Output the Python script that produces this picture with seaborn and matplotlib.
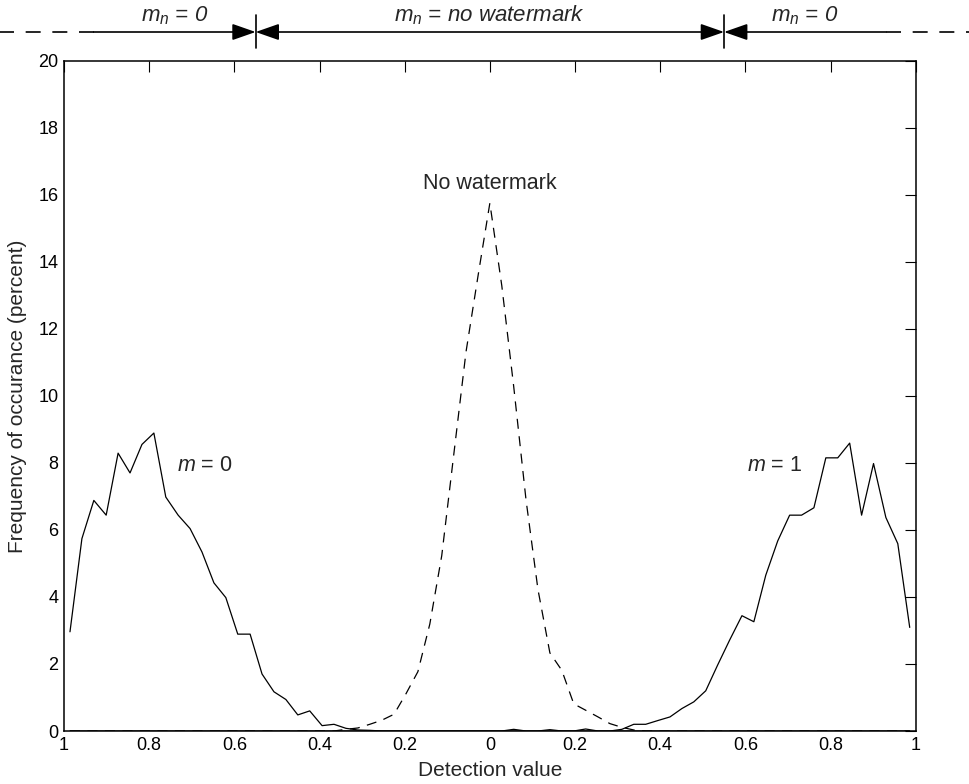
import matplotlib
matplotlib.use("Agg")
import matplotlib.pyplot as plt
import matplotlib.transforms as mtransforms
import seaborn as sns

# bin centres of the detection histogram (71 bins on [-1, 1])
detection_value = [
    -0.986, -0.958, -0.930, -0.901, -0.873, -0.845, -0.817, -0.789, -0.761, -0.732,
    -0.704, -0.676, -0.648, -0.620, -0.592, -0.563, -0.535, -0.507, -0.479, -0.451,
    -0.423, -0.394, -0.366, -0.338, -0.310, -0.282, -0.254, -0.225, -0.197, -0.169,
    -0.141, -0.113, -0.085, -0.056, -0.028, 0.0, 0.028, 0.056, 0.085, 0.113,
    0.141, 0.169, 0.197, 0.225, 0.254, 0.282, 0.310, 0.338, 0.366, 0.394,
    0.423, 0.451, 0.479, 0.507, 0.535, 0.563, 0.592, 0.620, 0.648, 0.676,
    0.704, 0.732, 0.761, 0.789, 0.817, 0.845, 0.873, 0.901, 0.930, 0.958, 0.986,
]

# frequency of occurance (percent), message bit m = 0
freq_m0 = [
    2.96, 5.74, 6.88, 6.44, 8.29, 7.70, 8.55, 8.89, 6.98, 6.44,
    6.04, 5.34, 4.42, 3.98, 2.89, 2.89, 1.70, 1.17, 0.94, 0.48,
    0.60, 0.16, 0.20, 0.08, 0.03, 0.02, 0.0, 0.0, 0.0, 0.0,
    0.0, 0.0, 0.0, 0.0, 0.0, 0.0, 0.0, 0.0, 0.0, 0.0,
    0.0, 0.0, 0.0, 0.0, 0.0, 0.0, 0.0, 0.0, 0.0, 0.0,
    0.0, 0.0, 0.0, 0.0, 0.0, 0.0, 0.0, 0.0, 0.0, 0.0,
    0.0, 0.0, 0.0, 0.0, 0.0, 0.0, 0.0, 0.0, 0.0, 0.0, 0.0,
]

# message bit m = 1
freq_m1 = [
    0.0, 0.0, 0.0, 0.0, 0.0, 0.0, 0.0, 0.0, 0.0, 0.0,
    0.0, 0.0, 0.0, 0.0, 0.0, 0.0, 0.0, 0.0, 0.0, 0.0,
    0.0, 0.0, 0.0, 0.0, 0.0, 0.0, 0.0, 0.0, 0.0, 0.0,
    0.0, 0.0, 0.0, 0.0, 0.0, 0.0, 0.0, 0.05, 0.0, 0.0,
    0.04, 0.0, 0.0, 0.06, 0.0, 0.0, 0.05, 0.20, 0.20, 0.31,
    0.42, 0.67, 0.87, 1.20, 1.97, 2.71, 3.44, 3.26, 4.65, 5.67,
    6.44, 6.44, 6.66, 8.15, 8.15, 8.59, 6.44, 7.98, 6.37, 5.59, 3.09,
]

# no watermark embedded
freq_none = [
    0.0, 0.0, 0.0, 0.0, 0.0, 0.0, 0.0, 0.0, 0.0, 0.0,
    0.0, 0.0, 0.0, 0.0, 0.0, 0.0, 0.0, 0.0, 0.0, 0.0,
    0.0, 0.0, 0.0, 0.05, 0.09, 0.20, 0.32, 0.50, 1.11, 1.77,
    3.19, 5.23, 8.22, 11.31, 13.56, 15.75, 13.29, 10.28, 6.89, 4.22,
    2.33, 1.81, 0.81, 0.62, 0.42, 0.22, 0.11, 0.03, 0.0, 0.0,
    0.0, 0.0, 0.0, 0.0, 0.0, 0.0, 0.0, 0.0, 0.0, 0.0,
    0.0, 0.0, 0.0, 0.0, 0.0, 0.0, 0.0, 0.0, 0.0, 0.0, 0.0,
]

x_ticks = [-1.0, -0.8, -0.6, -0.4, -0.2, 0.0, 0.2, 0.4, 0.6, 0.8, 1.0]
x_tick_labels = ["1", "0.8", "0.6", "0.4", "0.2", "0", "0.2", "0.4", "0.6", "0.8", "1"]
y_ticks = [0, 2, 4, 6, 8, 10, 12, 14, 16, 18, 20]

# region boundaries shown above the plot
region_edge = 0.55
region_outer = 0.93

sns.set_theme(style="white")
plt.rcParams["font.family"] = ["Liberation Sans", "DejaVu Sans"]
plt.rcParams["mathtext.fontset"] = "custom"
plt.rcParams["mathtext.it"] = "Liberation Sans:italic"
plt.rcParams["mathtext.rm"] = "Liberation Sans"

fig = plt.figure(figsize=(9.7, 7.84), dpi=100)
ax = fig.add_axes([0.066, 0.0676, 0.878, 0.855])

sns.lineplot(x=detection_value, y=freq_m0, color="black", lw=0.9, errorbar=None, ax=ax)
sns.lineplot(x=detection_value, y=freq_m1, color="black", lw=0.9, errorbar=None, ax=ax)
sns.lineplot(x=detection_value, y=freq_none, color="black", lw=0.9, errorbar=None,
             linestyle=(0, (8, 6)), ax=ax)

ax.set_xlim(-1, 1)
ax.set_ylim(0, 20)
ax.set_xticks(x_ticks)
ax.set_xticklabels(x_tick_labels)
ax.set_yticks(y_ticks)
ax.tick_params(direction="in", top=True, right=True, length=8, width=0.8,
               labelsize=13, colors="black", pad=4)
for sp in ax.spines.values():
    sp.set_color("black")
    sp.set_linewidth(1.1)

ax.set_xlabel("Detection value", fontsize=15, labelpad=5)
ax.set_ylabel("Frequency of occurance (percent)", fontsize=15, labelpad=8)

ax.text(0.0, 16.35, "No watermark", fontsize=15.5, ha="center", va="center")
ax.text(-0.669, 7.93, "$m$ = 0", fontsize=15.5, ha="center", va="center")
ax.text(0.669, 7.93, "$m$ = 1", fontsize=15.5, ha="center", va="center")

# region markers above the axes: x in data units, y in figure fraction
trans = mtransforms.blended_transform_factory(ax.transData, fig.transFigure)
y_line = 1 - 32 / 784
y_text = 1 - 21 / 784

for xs in (-region_edge, region_edge):
    ax.plot([xs, xs], [1 - 15 / 784, 1 - 48 / 784], color="black", lw=1.2,
            transform=trans, clip_on=False)

ax.plot([-1.16, -region_outer], [y_line, y_line], color="black", lw=1.2,
        linestyle=(0, (9, 7)), transform=trans, clip_on=False)
ax.plot([region_outer, 1.14], [y_line, y_line], color="black", lw=1.2,
        linestyle=(0, (9, 7)), transform=trans, clip_on=False)

head = "-|>,head_length=0.4,head_width=0.14"
ax.annotate("", xy=(-region_edge, y_line), xytext=(-region_outer, y_line),
            xycoords=trans, textcoords=trans,
            arrowprops=dict(arrowstyle=head, color="black", lw=1.2,
                            mutation_scale=36, shrinkA=0, shrinkB=0))
ax.annotate("", xy=(region_edge, y_line), xytext=(region_outer, y_line),
            xycoords=trans, textcoords=trans,
            arrowprops=dict(arrowstyle=head, color="black", lw=1.2,
                            mutation_scale=36, shrinkA=0, shrinkB=0))
ax.annotate("", xy=(region_edge, y_line), xytext=(-region_edge, y_line),
            xycoords=trans, textcoords=trans,
            arrowprops=dict(arrowstyle="<|-|>,head_length=0.4,head_width=0.14",
                            color="black", lw=1.2, mutation_scale=36,
                            shrinkA=0, shrinkB=0))

ax.text(-(region_edge + region_outer) / 2, y_text, "$m_n$ = 0", fontsize=16,
        style="italic", ha="center", va="baseline", transform=trans)
ax.text(0.0, y_text, "$m_n$ = no watermark", fontsize=16,
        style="italic", ha="center", va="baseline", transform=trans)
ax.text((region_edge + region_outer) / 2, y_text, "$m_n$ = 0", fontsize=16,
        style="italic", ha="center", va="baseline", transform=trans)

fig.savefig("out.png", dpi=100)
